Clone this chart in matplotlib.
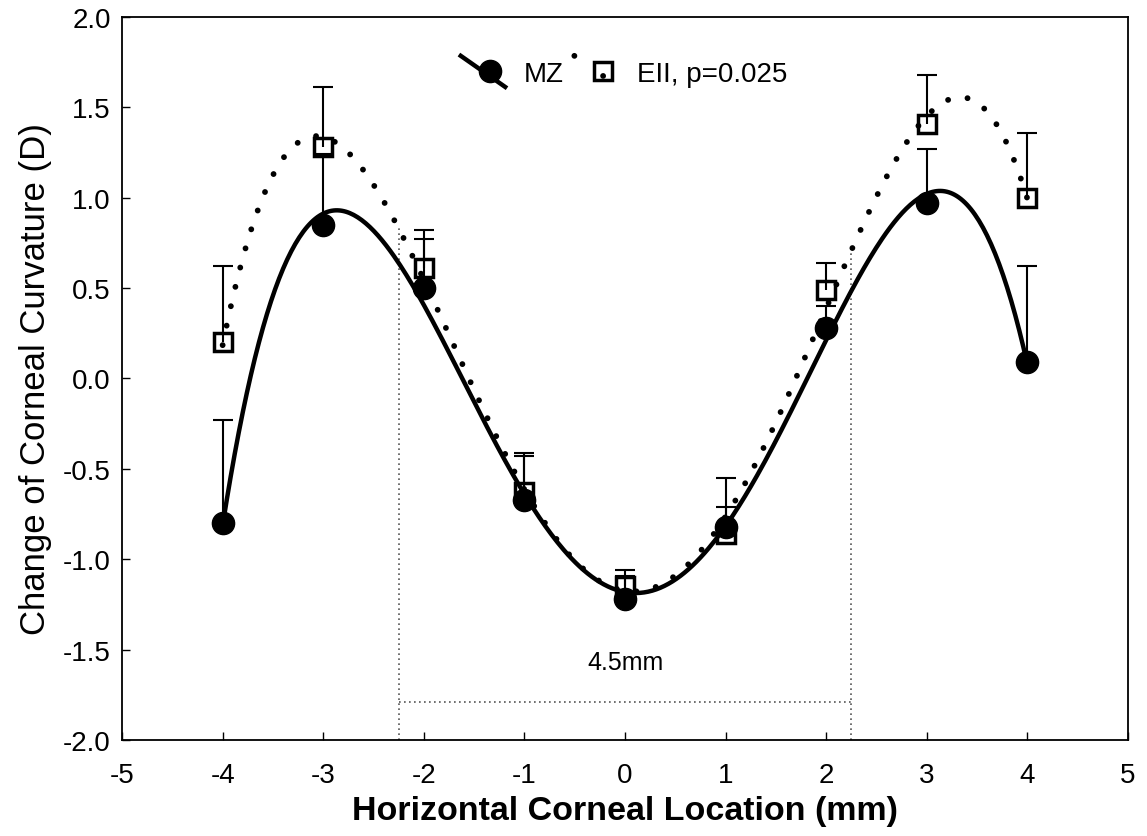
import numpy as np
import matplotlib
matplotlib.use("Agg")
import matplotlib.pyplot as plt
from matplotlib.lines import Line2D
from matplotlib.legend_handler import HandlerBase

plt.rcParams['font.family'] = ['Liberation Sans', 'DejaVu Sans']

# ---- data ----
x_loc = [-4, -3, -2, -1, 0, 1, 2, 3, 4]
mz_vals = [-0.80, 0.85, 0.50, -0.67, -1.22, -0.82, 0.28, 0.97, 0.09]
mz_upper = [-0.23, 1.24, 0.77, -0.43, -1.09, -0.71, 0.40, 1.27, 0.62]
eii_vals = [0.20, 1.28, 0.61, -0.63, -1.15, -0.86, 0.49, 1.41, 1.00]
eii_upper = [0.62, 1.61, 0.82, -0.41, -1.06, -0.55, 0.64, 1.68, 1.36]
zone_edges = [-2.25, 2.25]
zone_label = "4.5mm"
zone_y = -1.79
x_ticks = [-5, -4, -3, -2, -1, 0, 1, 2, 3, 4, 5]
y_ticks = [-2.0, -1.5, -1.0, -0.5, 0.0, 0.5, 1.0, 1.5, 2.0]
fit_degree = 4

fig = plt.figure(figsize=(11.47, 8.37), dpi=100)
ax = fig.add_axes([0.1064, 0.1147, 0.8770, 0.8638])

xs = np.array(x_loc, dtype=float)
mz = np.array(mz_vals)
eii = np.array(eii_vals)

# polynomial regression trend lines
xf = np.linspace(-4, 4, 400)
mz_poly = np.polyfit(xs, mz, fit_degree)
eii_poly = np.polyfit(xs, eii, fit_degree)
mz_fit = np.polyval(mz_poly, xf)
eii_fit = np.polyval(eii_poly, xf)

# zone markers
for xe in zone_edges:
    ax.plot([xe, xe], [-2.0, np.polyval(eii_poly, xe)], color='#555555',
            lw=1.2, linestyle=(0, (1, 2)), zorder=1)
ax.plot(zone_edges, [zone_y, zone_y], color='#555555', lw=1.2,
        linestyle=(0, (1, 2)), zorder=1)
ax.text(0, -1.57, zone_label, ha='center', va='center', fontsize=18)

# error bars (upper only, cap at top)
ax.vlines(xs, mz, mz_upper, color='black', lw=1.5, zorder=2)
ax.vlines(xs, eii, eii_upper, color='black', lw=1.5, zorder=2)
ax.plot(xs, mz_upper, '_', color='black', ms=14, mew=1.5, zorder=2)
ax.plot(xs, eii_upper, '_', color='black', ms=14, mew=1.5, zorder=2)

# curves
ax.plot(xf, mz_fit, color='black', lw=3.2, zorder=3)
ax.plot(xf, eii_fit, color='black', lw=4.2, linestyle=(0, (0.01, 3.4)),
        dash_capstyle='round', zorder=3)

# markers
ax.plot(xs, mz, 'o', color='black', ms=16, zorder=4)
ax.plot(xs, eii, 's', mfc='none', mec='black', ms=13, mew=2.5, zorder=5)

ax.set_xlim(-5, 5)
ax.set_ylim(-2, 2)
ax.set_xticks(x_ticks)
ax.set_xticklabels([str(t) for t in x_ticks])
ax.set_yticks(y_ticks)
ax.set_yticklabels([f"{t:.1f}" for t in y_ticks])
ax.tick_params(direction='in', length=6, width=1, labelsize=20)
ax.tick_params(axis='x', pad=16)
ax.tick_params(axis='y', pad=8)
for s in ax.spines.values():
    s.set_linewidth(1.3)

ax.set_xlabel("Horizontal Corneal Location (mm)", fontsize=24.5,
              fontweight='bold', labelpad=5)
ax.set_ylabel("Change of Corneal Curvature (D)", fontsize=25, labelpad=8)


class SlopedHandler(HandlerBase):
    def __init__(self, line_kw, marker_kw):
        super().__init__()
        self.line_kw = line_kw
        self.marker_kw = marker_kw

    def create_artists(self, legend, orig_handle, xdescent, ydescent,
                       width, height, fontsize, trans):
        x0, x1 = -xdescent, -xdescent + width
        y0, y1 = height * 1.3, -height * 0.3
        ln = Line2D([x0, x1], [y0, y1], transform=trans, **self.line_kw)
        mk = Line2D([(x0 + x1) / 2 + width * 0.15], [height / 2],
                    transform=trans, linestyle='none', **self.marker_kw)
        return [ln, mk]


h_mz = Line2D([], [])
h_eii = Line2D([], [], label='b')
leg = ax.legend([h_mz, h_eii], ["MZ", "EII, p=0.025"],
                handler_map={
                    h_mz: SlopedHandler(dict(color='black', lw=3.2),
                                        dict(marker='o', color='black', ms=16)),
                    h_eii: SlopedHandler(dict(color='black', lw=4.2,
                                              linestyle=(0, (0.01, 6)),
                                              dash_capstyle='round'),
                                         dict(marker='s', mfc='none', mec='black',
                                              ms=13, mew=2.5))},
                loc='center', bbox_to_anchor=(0.499, 0.921), ncol=2,
                frameon=False, fontsize=20, handlelength=1.6,
                handletextpad=0.65, columnspacing=0.4)

fig.savefig("out.png", dpi=100)
